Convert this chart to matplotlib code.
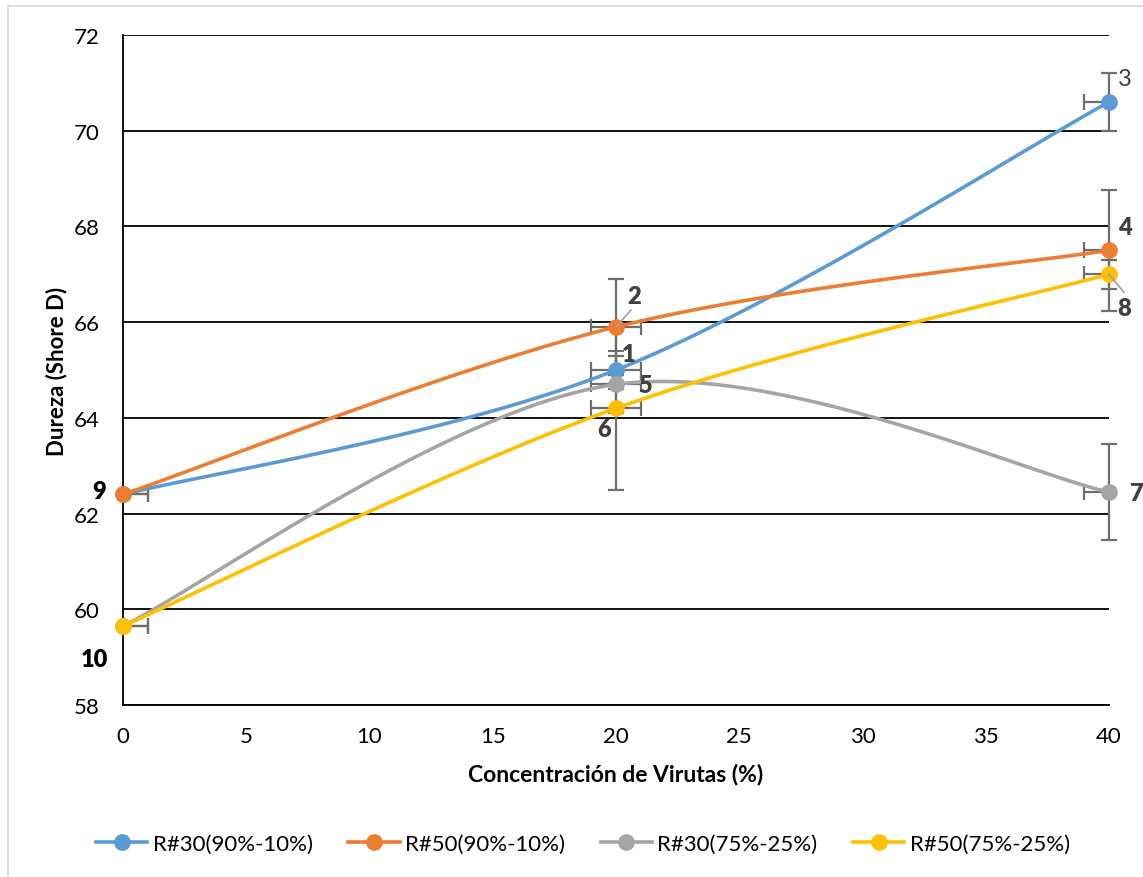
import numpy as np
import matplotlib
matplotlib.use("Agg")
import matplotlib.pyplot as plt
from matplotlib.patches import Rectangle

plt.rcParams['font.family'] = ['Lato', 'DejaVu Sans']

# ---------------- data ----------------
x_vals = [0, 20, 40]
series_names = ["R#30(90%-10%)", "R#50(90%-10%)", "R#30(75%-25%)", "R#50(75%-25%)"]
colors = ["#5B9BD5", "#ED7D31", "#A5A5A5", "#FFC000"]
y_r30_90 = [62.4, 65.0, 70.6]
y_r50_90 = [62.4, 65.9, 67.5]
y_r30_75 = [59.65, 64.7, 62.45]
y_r50_75 = [59.65, 64.2, 67.0]
yerr_r30_90 = [0.0, 0.4, 0.6]
yerr_r50_90 = [0.0, 1.0, 1.27]
yerr_r30_75 = [0.0, 0.6, 1.0]
yerr_r50_75 = [0.0, 1.7, 0.3]
xerr_all = [1.0, 1.0, 1.0]
x_ticks = [0, 5, 10, 15, 20, 25, 30, 35, 40]
y_ticks = [58, 60, 62, 64, 66, 68, 70, 72]
# point labels: (text, x, y, bold, colour)
point_labels = [
    ("1", 20.5, 65.33, True, "#404040"),
    ("2", 20.75, 66.55, True, "#404040"),
    ("3", 40.65, 71.1, False, "#404040"),
    ("4", 40.65, 67.98, True, "#404040"),
    ("5", 21.2, 64.68, True, "#404040"),
    ("6", 19.5, 63.76, True, "#404040"),
    ("7", 41.1, 62.42, True, "#404040"),
    ("8", 40.6, 66.3, True, "#404040"),
    ("9", -0.95, 62.48, True, "black"),
    ("10", -1.15, 58.96, True, "black"),
]
# leader lines: (x0, y0, x1, y1)
leaders = [(20.0, 65.9, 20.6, 66.25), (40.0, 67.0, 40.6, 66.63)]

ys = [y_r30_90, y_r50_90, y_r30_75, y_r50_75]
yerrs = [yerr_r30_90, yerr_r50_90, yerr_r30_75, yerr_r50_75]

W, H = 1143, 878
fig = plt.figure(figsize=(W / 100, H / 100), dpi=100)
fig.patch.set_facecolor("white")
fig.add_artist(Rectangle((8 / W, -0.01), 1.02, 1 - 7 / H + 0.01, transform=fig.transFigure,
                         fill=False, edgecolor="#D9D9D9", linewidth=1.2))

ax = fig.add_axes([123 / W, 1 - 706 / H, (1109 - 123) / W, (706 - 36) / H])
ax.set_xlim(0, 40)
ax.set_ylim(58, 72)

# pixel scale for smoothing
sx = (1109 - 123) / 40.0
sy = (706 - 36) / 14.0


def smooth(xs, yv, n=60):
    P = np.column_stack([np.asarray(xs, float) * sx, np.asarray(yv, float) * sy])
    m = len(P)
    out = []
    for i in range(m - 1):
        p0 = P[i - 1] if i > 0 else P[i]
        p1 = P[i]
        p2 = P[i + 1]
        p3 = P[i + 2] if i + 2 < m else P[i + 1]
        c1 = p1 + (p2 - p0) / 6.0
        c2 = p2 - (p3 - p1) / 6.0
        t = np.linspace(0, 1, n)[:, None]
        b = ((1 - t) ** 3) * p1 + 3 * ((1 - t) ** 2) * t * c1 + 3 * (1 - t) * t ** 2 * c2 + t ** 3 * p2
        out.append(b if i == 0 else b[1:])
    B = np.vstack(out)
    return B[:, 0] / sx, B[:, 1] / sy


ecolor = "#6E6E6E"
for name, col, yv, ye in zip(series_names, colors, ys, yerrs):
    xa = np.array(x_vals, float)
    ya = np.array(yv, float)
    yea = np.array(ye, float)
    ax.errorbar(xa, ya, xerr=xerr_all, fmt="none", ecolor=ecolor, elinewidth=1.6,
                capsize=6, capthick=1.6, zorder=2, clip_on=True)
    mask = yea > 0
    ax.errorbar(xa[mask], ya[mask], yerr=yea[mask], fmt="none", ecolor=ecolor,
                elinewidth=1.6, capsize=6, capthick=1.6, zorder=2, clip_on=False)
    sxv, syv = smooth(xa, ya)
    ax.plot(sxv, syv, color=col, linewidth=2.6, zorder=3, solid_capstyle="round")
    ax.plot(xa, ya, linestyle="none", marker="o", markersize=11, color=col,
            markeredgecolor=col, zorder=4, clip_on=False)
    ax.plot([], [], color=col, linewidth=2.6, marker="o", markersize=11, label=name)

for (x0, y0, x1, y1) in leaders:
    ax.plot([x0, x1], [y0, y1], color="#A5A5A5", linewidth=1.3, zorder=5, clip_on=False)

for txt, lx, ly, bold, tc in point_labels:
    ax.text(lx, ly, txt, ha="center", va="center", fontsize=17,
            fontweight="heavy" if bold else "normal", color=tc, zorder=6, clip_on=False)

ax.set_yticks(y_ticks)
ax.set_xticks(x_ticks)
ax.yaxis.grid(True, color="black", linewidth=1.3)
ax.set_axisbelow(True)
for s in ["top", "right"]:
    ax.spines[s].set_visible(False)
for s in ["left", "bottom"]:
    ax.spines[s].set_color("black")
    ax.spines[s].set_linewidth(1.3)
ax.tick_params(axis="both", length=0, labelsize=16, colors="black")
ax.tick_params(axis="y", pad=17)
ax.tick_params(axis="x", pad=15)

ax.set_ylabel("Dureza (Shore D)", fontsize=16, fontweight="bold", labelpad=4)
ax.set_xlabel("Concentración de Virutas (%)", fontsize=16.5, fontweight="bold", labelpad=12)

leg = fig.legend(loc="center", bbox_to_anchor=(583 / W, 1 - 845 / H), ncol=4, frameon=False,
                 fontsize=16, handlelength=2.3, columnspacing=1.6, handletextpad=0.25)

fig.savefig("out.png", dpi=100, facecolor="white")
